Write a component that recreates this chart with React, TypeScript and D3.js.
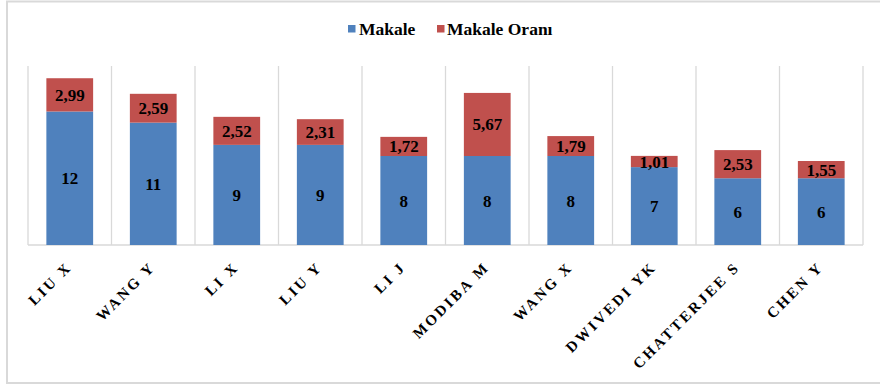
import React from "react";
import * as d3 from "d3";

const categories = ["LIU X", "WANG Y", "LI X", "LIU Y", "LI J", "MODIBA M", "WANG X", "DWIVEDI YK", "CHATTERJEE S", "CHEN Y"];
const makale = [12, 11, 9, 9, 8, 8, 8, 7, 6, 6];
const makaleOrani = [2.99, 2.59, 2.52, 2.31, 1.72, 5.67, 1.79, 1.01, 2.53, 1.55];
const seriesNames = ["Makale", "Makale Oranı"];
const colors = ["#4F81BD", "#C0504D"];

const W = 880, H = 386;
const plotLeft = 28, plotRight = 863, plotTop = 66, plotBottom = 245;
const FONT = "Liberation Serif, Times New Roman, DejaVu Serif, serif";

const fmt = (v: number) => (Number.isInteger(v) ? String(v) : v.toFixed(2).replace(".", ","));

export default function App() {
  const x = d3.scaleBand<string>().domain(categories).range([plotLeft, plotRight]).paddingInner(0.44).paddingOuter(0.22);
  const y = d3.scaleLinear().domain([0, 16]).range([plotBottom, plotTop + 1]);
  const step = x.step();
  const data = categories.map((c, i) => ({ c, a: makale[i], b: makaleOrani[i] }));
  const stacked = d3.stack<any>().keys(["a", "b"])(data as any);

  return (
    <svg width={W} height={H} style={{ position: "fixed", left: 0, top: 0, background: "#fff", fontFamily: FONT }}>
      <rect x={7} y={1.5} width={W + 10} height={381.5} fill="#fff" stroke="#d9d9d9" strokeWidth={2} />
      {/* legend */}
      <g fontWeight="bold" fontSize={17.5} style={{ fontFamily: FONT }}>
        <rect x={348} y={25} width={7.5} height={7.5} fill={colors[0]} />
        <text x={359} y={34.5} fill="#000">{seriesNames[0]}</text>
        <rect x={437} y={25} width={7.5} height={7.5} fill={colors[1]} />
        <text x={447} y={34.5} fill="#000">{seriesNames[1]}</text>
      </g>
      {/* vertical gridlines */}
      {d3.range(categories.length + 1).map((i) => (
        <line key={i} x1={plotLeft + i * step} x2={plotLeft + i * step} y1={plotTop} y2={plotBottom} stroke="#d9d9d9" strokeWidth={1.3} />
      ))}
      <line x1={plotLeft} x2={plotRight} y1={plotBottom} y2={plotBottom} stroke="#d9d9d9" strokeWidth={1.5} />
      {/* bars */}
      {stacked.map((s, si) => (
        <g key={si}>
          {s.map((d: any, i: number) => {
            const x0 = x(categories[i])!;
            const y0 = y(d[1]);
            const y1 = y(d[0]);
            const val = si === 0 ? makale[i] : makaleOrani[i];
            return (
              <g key={i}>
                <rect x={x0} y={y0} width={x.bandwidth()} height={y1 - y0} fill={colors[si]} />
                <text x={x0 + x.bandwidth() / 2} y={(y0 + y1) / 2 + 6} textAnchor="middle" fontWeight="bold" fontSize={17} fill="#000" style={{ fontFamily: FONT }}>
                  {fmt(val)}
                </text>
              </g>
            );
          })}
        </g>
      ))}
      {/* category labels */}
      {categories.map((c) => {
        const cx = x(c)! + x.bandwidth() / 2 + 3;
        const cy = 268;
        return (
          <text key={c} x={cx} y={cy} transform={`rotate(-45 ${cx} ${cy})`} textAnchor="end" fontWeight="bold" fontSize={15} letterSpacing={2.6} fill="#000" style={{ fontFamily: FONT }}>
            {c}
          </text>
        );
      })}
    </svg>
  );
}
